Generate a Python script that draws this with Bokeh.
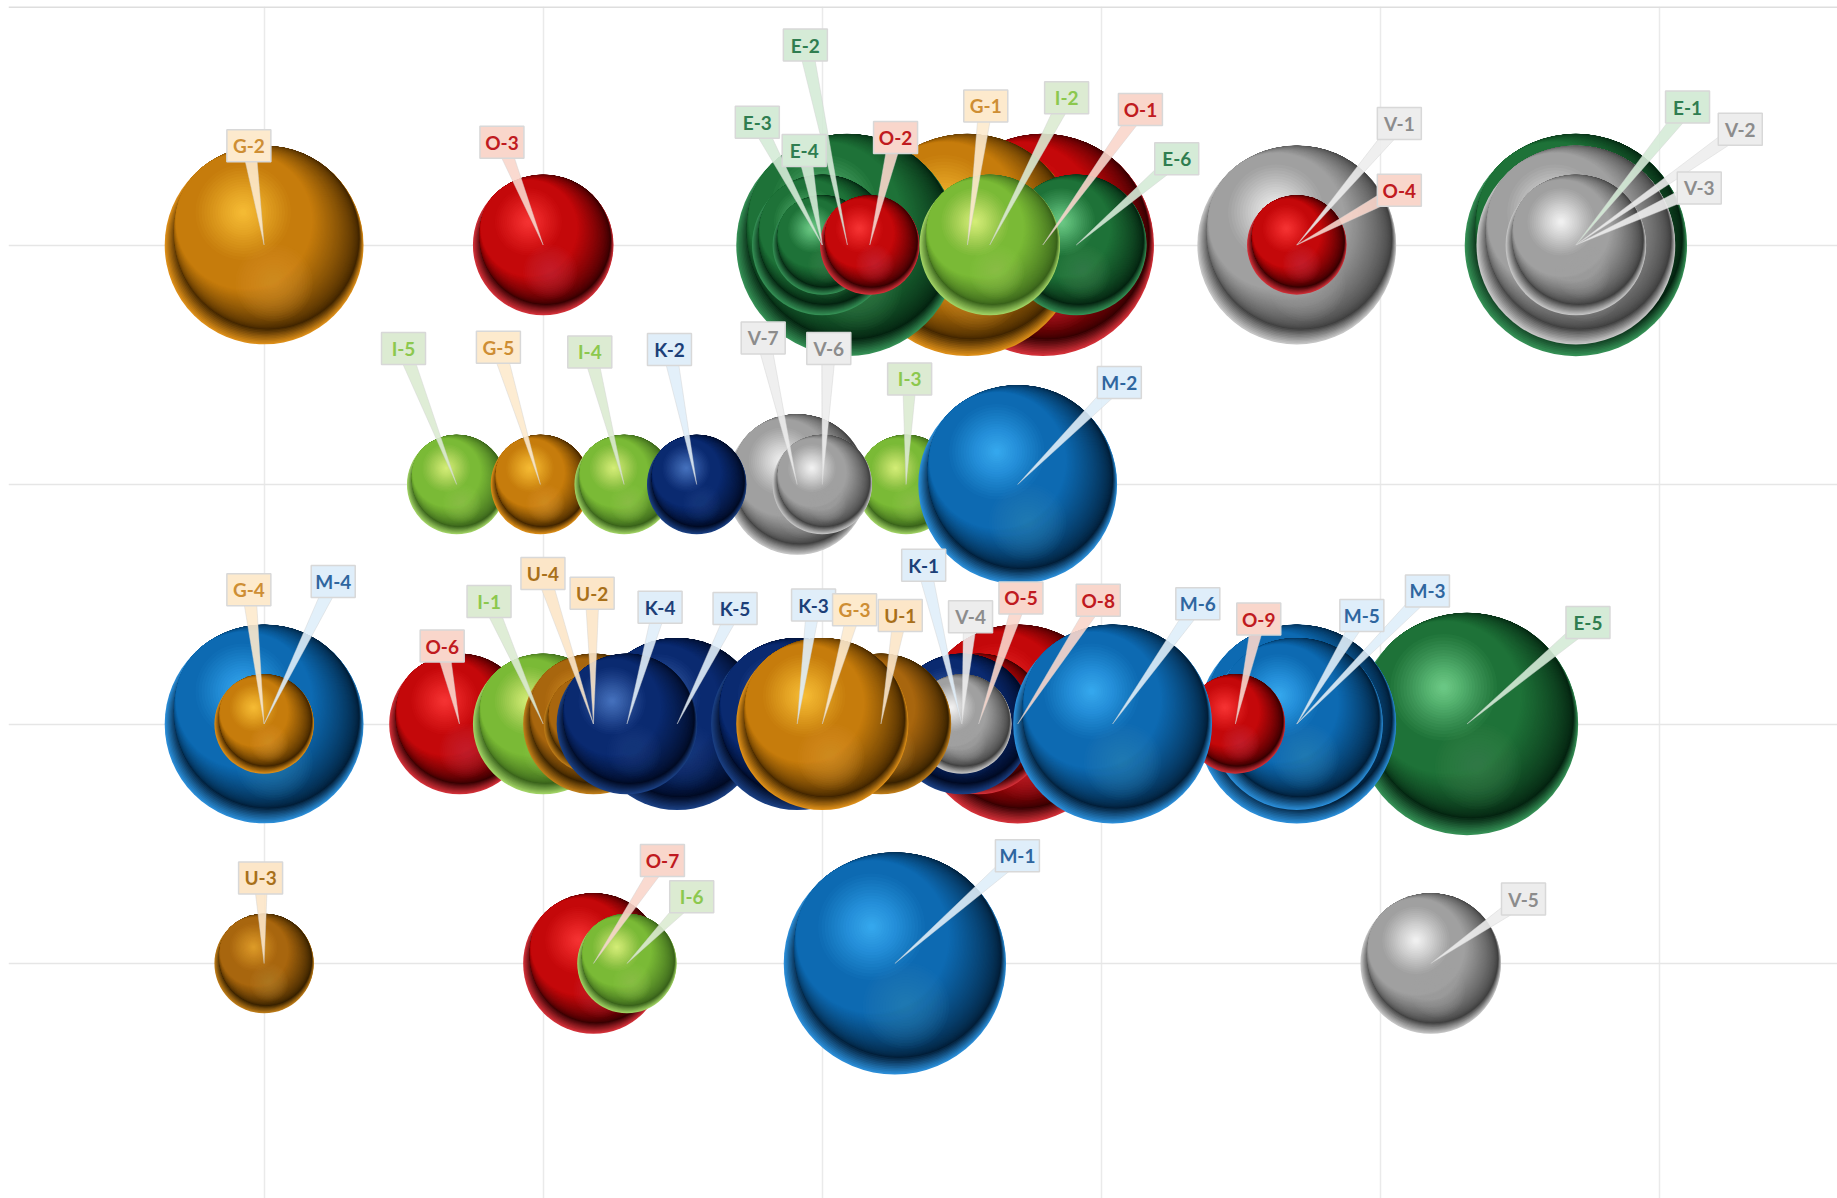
from bokeh.plotting import figure, ColumnDataSource
from bokeh.models import FixedTicker, Span
from bokeh.core.properties import value
from bokeh.embed import file_html
from bokeh.resources import INLINE
import math

# ---------- chart data (back-to-front drawing order) ----------
names = ["G-2","O-3","O-1","G-1","E-2","E-3","E-4","O-2","E-6","I-2","V-1","O-4","E-1","V-2","V-3",
         "I-5","G-5","I-4","V-7","K-2","I-3","V-6","M-2",
         "M-4","G-4","O-6","I-1","U-4","U-2","O-8","O-5","K-5","K-4","K-3","K-1","V-4","U-1","G-3",
         "E-5","M-3","M-5","O-9","M-6",
         "U-3","O-7","I-6","M-1","V-5"]
x_vals = [1.00,2.00,3.79,3.52,3.09,3.00,3.00,3.17,3.91,3.60,4.70,4.70,5.70,5.70,5.70,
          1.69,1.99,2.29,2.91,2.55,3.30,3.00,3.70,
          1.00,1.00,1.70,2.00,2.18,2.18,3.70,3.56,2.48,2.30,2.91,3.50,3.50,3.21,3.00,
          5.31,4.70,4.70,4.48,4.04,
          1.00,2.18,2.30,3.26,5.18]
y_vals = [4]*15 + [3]*8 + [2]*20 + [1]*5
sizes  = [4,2,5,5,5,2,1,1,2,2,4,1,5,4,2,
          1,1,1,2,1,1,1,4,
          4,1,2,2,2,1,4,2,3,2,3,2,1,2,3,
          5,4,3,1,4,
          1,2,1,5,2]
x_ticks = [1,2,3,4,5,6]
y_ticks = [1,2,3,4]

# ---------- layout: where each callout box sits, in reference pixels ----------
SHRINK = 1837/1568
LABEL_AT = {"G-2":(212,124),"O-3":(428,121),"E-2":(687,38),"E-3":(646,104),"E-4":(686,128),"O-2":(764,117),
 "G-1":(841,90),"I-2":(910,83),"O-1":(973,93),"E-6":(1004,135),"V-1":(1194,105),"O-4":(1194,162),
 "E-1":(1440,91),"V-2":(1485,110),"V-3":(1450,160),"I-5":(344,297),"G-5":(425,296),"I-4":(503,300),
 "K-2":(571,298),"V-7":(651,288),"V-6":(707,297),"I-3":(776,323),"M-2":(955,326),"G-4":(212,503),
 "M-4":(284,496),"O-6":(377,551),"I-1":(417,513),"U-4":(463,489),"U-2":(505,506),"K-4":(563,518),
 "K-5":(627,519),"K-3":(694,516),"G-3":(729,520),"U-1":(768,525),"K-1":(788,482),"V-4":(828,526),
 "O-5":(871,510),"O-8":(937,512),"M-6":(1022,515),"O-9":(1074,528),"M-5":(1162,525),"M-3":(1218,504),
 "E-5":(1355,531),"U-3":(222,749),"O-7":(565,734),"I-6":(590,765),"M-1":(868,730),"V-5":(1300,767)}

W, H = 1837, 1198
LEFT, TOP = 8, 6
X0, PXX = 263.6, 279.1     # page x of x=1, pixels per x unit
Y0, PXY = 963.0, 239.5     # page y of y=1, pixels per y unit
R1 = 49.7                  # pixel radius of size 1

x_start = 1 + (LEFT - X0)/PXX
x_end   = 1 + (W - X0)/PXX
y_top   = 1 + (Y0 - TOP)/PXY
y_bot   = 1 + (Y0 - H)/PXY

# ---------- series styling ----------
STYLE = {  # base, highlight, dark, rim, reflected, label fill, label text
 "G": ("#C67C0C","#FFC53C","#3F2400","#DC8E18","#D9962F","#FDEACD","#CE8E34"),
 "U": ("#A8660E","#E8A430","#352000","#BE7C18","#BA802C","#FCE6C8","#A8701A"),
 "O": ("#C4080A","#FF3C3C","#340002","#D23038","#D43A40","#F9D6CB","#C01A20"),
 "I": ("#7ABA36","#E2F580","#37601A","#A0D264","#93C452","#DCEBD2","#8CC84E"),
 "E": ("#1E7238","#78D892","#042210","#348E54","#3C8B55","#D5EBD7","#2F7D50"),
 "V": ("#A0A0A0","#FFFFFF","#3E3E3E","#C4C4C4","#B2B2B2","#EDEDED","#8C8C8C"),
 "M": ("#0D6AB2","#3EB4FA","#021D36","#2A8CD6","#2C80BA","#DFEEFA","#2F669F"),
 "K": ("#0A2A70","#507EC8","#010A22","#1A3F82","#1E4688","#E0EEF9","#1D3F78"),
}

def mix(a, b, t):
    ca = [int(a[i:i+2], 16) for i in (1, 3, 5)]
    cb = [int(b[i:i+2], 16) for i in (1, 3, 5)]
    return "#%02x%02x%02x" % tuple(round(p + (q - p)*t) for p, q in zip(ca, cb))

# ---------- sphere shading: stacked discs computed from each bubble ----------
lx, ly, ld, lc, la = [], [], [], [], []
def disc(x, y, r, ox, oy, rr, col, alpha=1.0):
    lx.append(x + ox*r/PXX)
    ly.append(y - oy*r/PXY)
    ld.append(2*rr*r)
    lc.append(col)
    la.append(alpha)

for name, x, y, s in zip(names, x_vals, y_vals, sizes):
    base, hi, dark, rim, refl, _, _ = STYLE[name[0]]
    r = R1*math.sqrt(s)
    disc(x, y, r, 0, 0, 1, rim)
    for i in range(10):                     # bright rim lower left, fading into the dark band
        t = (i + 1)/10
        ox, oy = 0.04*t, -0.07*t
        disc(x, y, r, ox, oy, 1 - math.hypot(ox, oy), mix(rim, dark, t))
    for i in range(44):                     # dark lower right, easing slowly into the base colour
        t = (i + 1)/44
        ox, oy = 0.04 - 0.24*t, -0.07 - 0.17*t
        disc(x, y, r, ox, oy, 1 - math.hypot(ox, oy), mix(dark, base, t**0.8))
    for i in range(14):                     # reflected glow low on the sphere
        t = i/14
        disc(x, y, r, 0.10, 0.38, 0.36*(1 - t) + 0.03, refl, 0.06)
    for i in range(20):                     # specular highlight
        t = i/20
        disc(x, y, r, -0.21, -0.33, 0.46*(1 - t)**1.3 + 0.02, hi, 0.05 + 0.10*t)

p = figure(width=W, height=H, output_backend="svg", toolbar_location=None,
           x_range=(x_start, x_end), y_range=(y_bot, y_top),
           min_border_left=LEFT, min_border_top=TOP, min_border_right=0, min_border_bottom=0,
           outline_line_color=None, background_fill_color="white")
p.xaxis.visible = False
p.yaxis.visible = False
p.xgrid[0].ticker = FixedTicker(ticks=x_ticks)
p.ygrid[0].ticker = FixedTicker(ticks=y_ticks)
p.xgrid[0].grid_line_color = "#EAEAEA"
p.ygrid[0].grid_line_color = "#E6E6E6"
p.xgrid[0].grid_line_width = 1.5
p.ygrid[0].grid_line_width = 1.5
p.add_layout(Span(location=y_top, dimension="width", line_color="#DEDEDE", line_width=3))

p.scatter("x", "y", size="d", marker="circle", fill_color="c", fill_alpha="a", line_color=None,
          source=ColumnDataSource(dict(x=lx, y=ly, d=ld, c=lc, a=la)))

# ---------- callouts ----------
BOX_W, BOX_H = 44, 32
wx, wy, wc, bx, by, bc, tc = [], [], [], [], [], [], []
for name, x, y in zip(names, x_vals, y_vals):
    _, _, _, _, _, fill, txt = STYLE[name[0]]
    px, py = LABEL_AT[name]
    bxv = 1 + (px*SHRINK - X0)/PXX
    byv = 1 + (Y0 - py*SHRINK)/PXY
    ddx = (bxv - x)*PXX
    ddy = (byv - y)*PXY
    ln = math.hypot(ddx, ddy)
    nx, ny = -ddy/ln, ddx/ln
    half = 7
    wx.append([x, bxv + nx*half/PXX, bxv - nx*half/PXX])
    wy.append([y, byv + ny*half/PXY, byv - ny*half/PXY])
    wc.append(fill)
    bx.append(bxv); by.append(byv); bc.append(fill); tc.append(txt)

p.patches(wx, wy, fill_color=wc, fill_alpha=0.9, line_color="#CFCFCF", line_alpha=0.6, line_width=0.7)
p.rect(bx, by, width=BOX_W, height=BOX_H, width_units="screen", height_units="screen",
       fill_color=bc, line_color="#D8D8D8", line_width=1.5)
p.text(bx, by, text=names, text_color=tc, text_font=value("Lato"), text_font_style="bold",
       text_font_size="19px", text_align="center", text_baseline="middle")

open("out.html", "w").write(file_html(p, INLINE))
